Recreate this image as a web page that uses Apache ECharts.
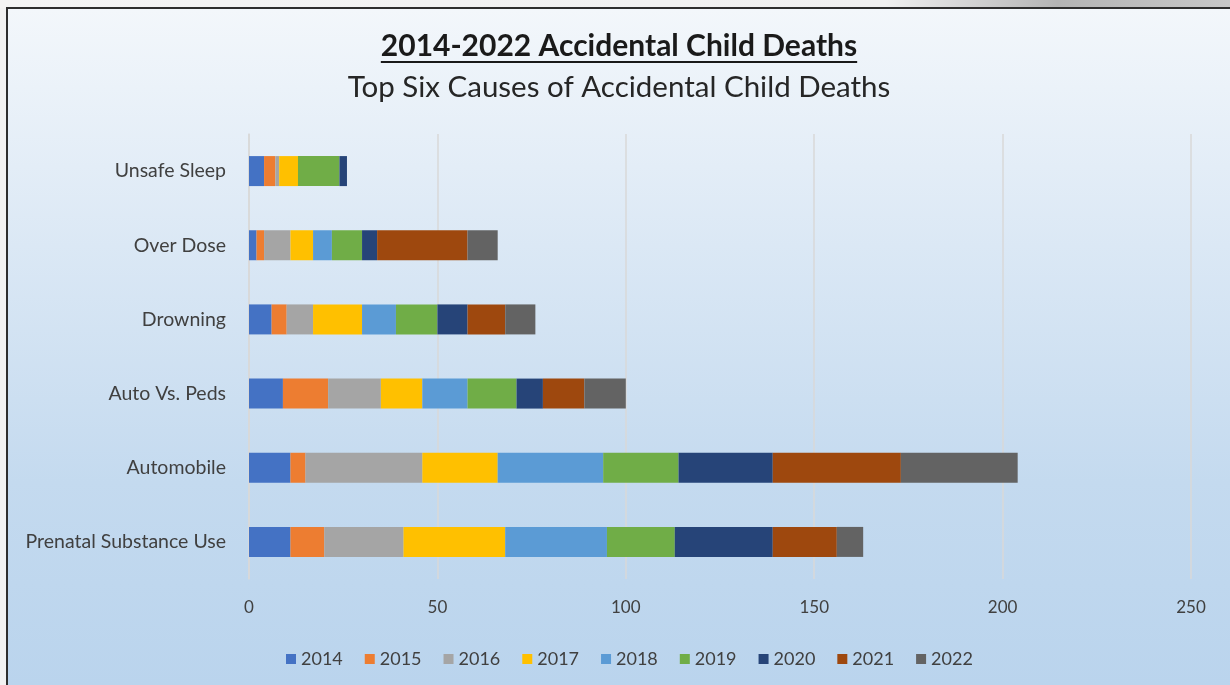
<!DOCTYPE html>
<html>
<head>
<meta charset="utf-8">
<title>2014-2022 Accidental Child Deaths</title>
<script src="https://cdn.jsdelivr.net/npm/echarts@6/dist/echarts.min.js"></script>
<style>
  html, body { margin: 0; padding: 0; background: #f2f2f2; }
  #chart { width: 1230px; height: 685px; }
</style>
</head>
<body>
<div id="chart"></div>
<script>
// Causes, listed bottom to top as they appear on the category axis
const causes = ['Prenatal Substance Use', 'Automobile', 'Auto Vs. Peds', 'Drowning', 'Over Dose', 'Unsafe Sleep'];
const years = ['2014', '2015', '2016', '2017', '2018', '2019', '2020', '2021', '2022'];

// Deaths per cause for each year (same order as causes)
const deaths2014 = [11, 11, 9, 6, 2, 4];
const deaths2015 = [9, 4, 12, 4, 2, 3];
const deaths2016 = [21, 31, 14, 7, 7, 1];
const deaths2017 = [27, 20, 11, 13, 6, 5];
const deaths2018 = [27, 28, 12, 9, 5, 0];
const deaths2019 = [18, 20, 13, 11, 8, 11];
const deaths2020 = [26, 25, 7, 8, 4, 2];
const deaths2021 = [17, 34, 11, 10, 24, 0];
const deaths2022 = [7, 31, 11, 8, 8, 0];

const xTicks = [0, 50, 100, 150, 200, 250];

const yearColors = ['#4472C4', '#ED7D31', '#A5A5A5', '#FFC000', '#5B9BD5', '#70AD47', '#264478', '#9E480E', '#636363'];
const byYear = [deaths2014, deaths2015, deaths2016, deaths2017, deaths2018, deaths2019, deaths2020, deaths2021, deaths2022];

const FONT = 'Lato, "Open Sans", sans-serif';
const titleText = '2014-2022 Accidental Child Deaths';
const subText = 'Top Six Causes of Accidental Child Deaths';
const TITLE_SIZE = 30;
const titleFont = 'bold ' + TITLE_SIZE + 'px ' + FONT;

// measure the bold title so the underline spans exactly its width
const ctx = document.createElement('canvas').getContext('2d');
ctx.font = titleFont;
const titleWidth = ctx.measureText(titleText).width;
const centerX = 619;
const titleY = 46;

const chart = echarts.init(document.getElementById('chart'), null, { renderer: 'canvas' });

const series = years.map((y, i) => ({
  name: y,
  type: 'bar',
  stack: 'total',
  barWidth: 30,
  itemStyle: { color: yearColors[i] },
  emphasis: { disabled: true },
  data: byYear[i]
}));

chart.setOption({
  animation: false,
  backgroundColor: '#f2f2f2',
  textStyle: { fontFamily: FONT },
  graphic: [
    // strip above the frame
    {
      type: 'rect', z: -10, silent: true,
      shape: { x: 0, y: 0, width: 1230, height: 8 },
      style: {
        fill: new echarts.graphic.LinearGradient(0, 0, 1, 0, [
          { offset: 0, color: '#f4f4f4' },
          { offset: 0.72, color: '#f0f0f0' },
          { offset: 0.86, color: '#b4b4b4' },
          { offset: 1, color: '#c8c8c8' }
        ])
      }
    },
    // framed chart area with vertical gradient
    {
      type: 'rect', z: -10, silent: true,
      shape: { x: 8, y: 9, width: 1222, height: 676 },
      style: {
        fill: new echarts.graphic.LinearGradient(0, 0, 0, 1, [
          { offset: 0, color: '#f3f7fb' },
          { offset: 0.35, color: '#dbe8f5' },
          { offset: 0.7, color: '#c4daef' },
          { offset: 1, color: '#bad4ed' }
        ])
      }
    },
    // frame edges
    {
      type: 'rect', z: -5, silent: true,
      shape: { x: 6, y: 7, width: 1224, height: 2 },
      style: { fill: '#2e2e2e' }
    },
    {
      type: 'rect', z: -5, silent: true,
      shape: { x: 6, y: 7, width: 2, height: 678 },
      style: { fill: '#2e2e2e' }
    },
    // title
    {
      type: 'text', silent: true,
      x: centerX, y: titleY,
      style: {
        text: titleText,
        font: titleFont,
        fill: '#1a1a1a',
        align: 'center',
        verticalAlign: 'middle'
      }
    },
    {
      type: 'rect', silent: true,
      shape: { x: centerX - titleWidth / 2, y: titleY + 15, width: titleWidth, height: 2 },
      style: { fill: '#1a1a1a' }
    },
    {
      type: 'text', silent: true,
      x: centerX, y: 87,
      style: {
        text: subText,
        font: '29.5px ' + FONT,
        fill: '#262626',
        align: 'center',
        verticalAlign: 'middle'
      }
    }
  ],
  legend: {
    data: years,
    top: 645,
    left: 281,
    icon: 'rect',
    itemWidth: 10,
    itemHeight: 10,
    itemGap: 22,
    textStyle: { fontSize: 18, color: '#404040', fontFamily: FONT },
    selectedMode: false
  },
  grid: { left: 249, right: 39, top: 134, bottom: 106, containLabel: false },
  xAxis: {
    type: 'value',
    min: xTicks[0],
    max: xTicks[xTicks.length - 1],
    interval: xTicks[1] - xTicks[0],
    axisLine: { show: false },
    axisTick: { show: false },
    axisLabel: { fontSize: 17, color: '#404040', margin: 20, fontFamily: FONT },
    splitLine: { lineStyle: { color: '#d9d9d9', width: 1.5 } }
  },
  yAxis: {
    type: 'category',
    data: causes,
    axisLine: { show: true, lineStyle: { color: '#d9d9d9', width: 1.5 } },
    axisTick: { show: false },
    axisLabel: { fontSize: 19.5, color: '#404040', margin: 23, fontFamily: FONT }
  },
  series: series
});
</script>
</body>
</html>
